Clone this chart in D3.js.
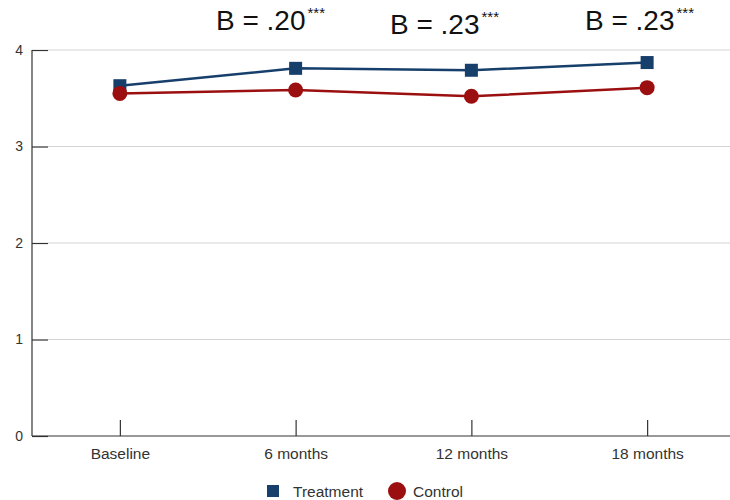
<!DOCTYPE html>
<html>
<head>
<meta charset="utf-8">
<script src="https://cdn.jsdelivr.net/npm/d3@7"></script>
<style>
  body { margin: 0; background: #fff; }
  svg { display: block; }
</style>
</head>
<body>
<script>
    chartWidth = 730
    chartHeight = 500

    // data
    timepoints = ["Baseline", "6 months", "12 months", "18 months"]
    treatmentValues = [3.63, 3.81, 3.79, 3.87]
    controlValues = [3.55, 3.585, 3.52, 3.61]
    yTicks = [0, 1, 2, 3, 4]
    annotations = [
        {label: "B = .20", stars: "***", x: 216, y: 30},
        {label: "B = .23", stars: "***", x: 390, y: 34},
        {label: "B = .23", stars: "***", x: 585, y: 30}
    ]
    legendItems = [
        {name: "Treatment", shape: "square", color: "#173f6b"},
        {name: "Control", shape: "circle", color: "#9b0f10"}
    ]

var svg = d3.select("body")
    .append("svg")
    .attr("width", chartWidth)
    .attr("height", chartHeight)
    .style("font-family", "Liberation Sans, Arial, sans-serif");

var x = d3.scalePoint()
    .domain(timepoints)
    .range([32, 735])
    .padding(0.5);

var y = d3.scaleLinear()
    .domain([0, 4])
    .range([436, 50]);

// grid lines
svg.append("g").selectAll("line")
    .data(yTicks.filter(function (d) { return d > 0 }))
    .enter()
    .append("line")
    .attr("x1", 48).attr("x2", chartWidth)
    .attr("y1", function (d) { return y(d) })
    .attr("y2", function (d) { return y(d) })
    .style("stroke", "#d4d4d4")
    .style("stroke-width", 1);

// y axis
var yAxis = svg.append("g")
    .attr("transform", "translate(32,0)")
    .call(d3.axisLeft(y).tickValues(yTicks).tickFormat(d3.format("d")).tickSize(-16));
yAxis.select(".domain").remove();
yAxis.selectAll(".tick line").style("stroke", "#333").style("stroke-width", 1.2);
yAxis.selectAll(".tick text")
    .attr("x", -9)
    .attr("font-size", "14px")
    .attr("fill", "#333")
    .attr("font-family", "Liberation Sans, Arial, sans-serif");
svg.append("line")
    .attr("x1", 32).attr("x2", 32)
    .attr("y1", y(4)).attr("y2", y(0))
    .style("stroke", "#333").style("stroke-width", 1.2);

// x axis
var xAxis = svg.append("g")
    .attr("transform", "translate(0," + y(0) + ")")
    .call(d3.axisBottom(x).tickSize(-16).tickPadding(12));
xAxis.select(".domain").remove();
xAxis.selectAll(".tick line").style("stroke", "#333").style("stroke-width", 1.2);
xAxis.selectAll(".tick text")
    .attr("font-size", "15.5px")
    .attr("fill", "#333")
    .attr("font-family", "Liberation Sans, Arial, sans-serif");
svg.append("line")
    .attr("x1", 32).attr("x2", chartWidth)
    .attr("y1", y(0)).attr("y2", y(0))
    .style("stroke", "#333").style("stroke-width", 1.2);

var line = d3.line()
    .x(function (d, i) { return x(timepoints[i]) })
    .y(function (d) { return y(d) });

// control series
svg.append("path")
    .datum(controlValues)
    .attr("d", line)
    .style("fill", "none")
    .style("stroke", legendItems[1].color)
    .style("stroke-width", 2.5);

// treatment series
svg.append("path")
    .datum(treatmentValues)
    .attr("d", line)
    .style("fill", "none")
    .style("stroke", legendItems[0].color)
    .style("stroke-width", 2.5);

svg.append("g").selectAll("rect")
    .data(treatmentValues)
    .enter()
    .append("rect")
    .attr("x", function (d, i) { return x(timepoints[i]) - 6.5 })
    .attr("y", function (d) { return y(d) - 6.5 })
    .attr("width", 13).attr("height", 13)
    .style("fill", legendItems[0].color);

svg.append("g").selectAll("circle")
    .data(controlValues)
    .enter()
    .append("circle")
    .attr("cx", function (d, i) { return x(timepoints[i]) })
    .attr("cy", function (d) { return y(d) })
    .attr("r", 7.5)
    .style("fill", legendItems[1].color);

// B annotations
var notes = svg.append("g").selectAll("text")
    .data(annotations)
    .enter()
    .append("text")
    .attr("x", function (d) { return d.x })
    .attr("y", function (d) { return d.y })
    .attr("font-size", "28px")
    .attr("fill", "#111");
notes.append("tspan").text(function (d) { return d.label });
notes.append("tspan")
    .attr("font-size", "15px")
    .attr("dx", 2)
    .attr("dy", -12)
    .text(function (d) { return d.stars });

// legend
var legendX = [267, 387]
var legend = svg.append("g").selectAll("g")
    .data(legendItems)
    .enter()
    .append("g")
    .attr("transform", function (d, i) { return "translate(" + legendX[i] + ",491)" });
legend.each(function (d) {
    var g = d3.select(this);
    if (d.shape == "square") {
        g.append("rect").attr("x", 0).attr("y", -6).attr("width", 12).attr("height", 12).style("fill", d.color);
    } else {
        g.append("circle").attr("cx", 10).attr("cy", 0).attr("r", 9).style("fill", d.color);
    }
});
legend.append("text")
    .text(function (d) { return d.name })
    .attr("x", function (d) { return d.shape == "square" ? 26 : 26 })
    .attr("y", 5.5)
    .attr("font-size", "15.5px")
    .attr("fill", "#333");
</script>
</body>
</html>
